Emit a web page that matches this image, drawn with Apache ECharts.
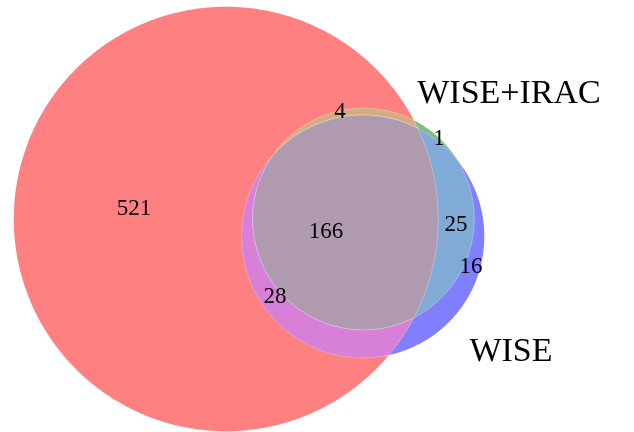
<!DOCTYPE html>
<html>
<head>
<meta charset="utf-8">
<script src="https://cdn.jsdelivr.net/npm/echarts@6/dist/echarts.min.js"></script>
<style>
  html, body { margin: 0; padding: 0; background: #fff; }
  #chart { width: 634px; height: 432px; }
</style>
</head>
<body>
<div id="chart"></div>
<script>
// sets: 0 = unlabeled (red), 1 = WISE+IRAC (green), 2 = WISE (blue)
const setNames = ['', 'WISE+IRAC', 'WISE'];
// each region lists the sets it belongs to
const regionSets = [[0], [1], [2], [0, 1], [0, 2], [1, 2], [0, 1, 2]];
const regionCounts = [521, 1, 16, 4, 28, 25, 166];
const regionColors = ['#ff8080', '#80bf80', '#8080ff', '#d7ab80', '#d780d7', '#80abd7', '#b09ab0'];

// layout in plot units (y downwards), circle area ~ set size
const setCenters = [[226, 219], [363.5, 219], [363, 236.5]];
const unitsPerSqrt = 7.915;
const countLabelPos = [[134, 209], [439, 139], [471, 267], [340, 112], [275, 297], [456, 225], [326, 232]];
const setLabelPos = [null, [509, 94], [511, 352]];

const setSizes = setNames.map((_, s) =>
  regionCounts.reduce((sum, v, i) => sum + (regionSets[i].includes(s) ? v : 0), 0));
const setRadii = setSizes.map(n => unitsPerSqrt * Math.sqrt(n));

function crossings(c1, c2) {
  const dx = c2.x - c1.x, dy = c2.y - c1.y;
  const d = Math.hypot(dx, dy);
  if (d > c1.r + c2.r || d < Math.abs(c1.r - c2.r) || d === 0) return [];
  const a = (c1.r * c1.r - c2.r * c2.r + d * d) / (2 * d);
  const h = Math.sqrt(Math.max(0, c1.r * c1.r - a * a));
  const mx = c1.x + a * dx / d, my = c1.y + a * dy / d;
  return [[mx - h * dy / d, my + h * dx / d], [mx + h * dy / d, my - h * dx / d]];
}

// polygon for the intersection of circles (always convex)
function intersectCircles(circles) {
  const pts = [];
  const inOthers = (p, skip) => circles.every((c, k) =>
    skip.includes(k) || Math.hypot(p[0] - c.x, p[1] - c.y) <= c.r + 1e-6);
  circles.forEach((c, i) => {
    const n = 720;
    for (let k = 0; k < n; k++) {
      const a = 2 * Math.PI * k / n;
      const p = [c.x + c.r * Math.cos(a), c.y + c.r * Math.sin(a)];
      if (inOthers(p, [i])) pts.push(p);
    }
    for (let j = i + 1; j < circles.length; j++) {
      crossings(c, circles[j]).forEach(p => { if (inOthers(p, [i, j])) pts.push(p); });
    }
  });
  const cx = pts.reduce((s, p) => s + p[0], 0) / pts.length;
  const cy = pts.reduce((s, p) => s + p[1], 0) / pts.length;
  pts.sort((p, q) => Math.atan2(p[1] - cy, p[0] - cx) - Math.atan2(q[1] - cy, q[0] - cx));
  return pts;
}

const chart = echarts.init(document.getElementById('chart'));

// regions painted from single sets up to the triple overlap
const paintOrder = regionSets.map((s, i) => i).sort((a, b) => regionSets[a].length - regionSets[b].length);

const option = {
  animation: false,
  grid: { left: 0, right: 0, top: 0, bottom: 0 },
  xAxis: { type: 'value', min: 0, max: 634, show: false },
  yAxis: { type: 'value', min: 0, max: 432, inverse: true, show: false },
  series: [
    {
      type: 'custom',
      coordinateSystem: 'cartesian2d',
      data: paintOrder.map(i => [i]),
      renderItem: (params, api) => {
        const idx = api.value(0);
        const circles = regionSets[idx].map(s => {
          const c = api.coord(setCenters[s]);
          return { x: c[0], y: c[1], r: api.size([setRadii[s], 0])[0] };
        });
        return {
          type: 'polygon',
          shape: { points: intersectCircles(circles) },
          style: {
            fill: regionColors[idx],
            stroke: regionSets[idx].length > 1 ? 'rgba(255,255,255,0.35)' : 'none',
            lineWidth: 0.8
          }
        };
      }
    },
    {
      type: 'custom',
      coordinateSystem: 'cartesian2d',
      data: regionCounts.map((v, i) => [countLabelPos[i][0], countLabelPos[i][1], v]),
      renderItem: (params, api) => {
        const p = api.coord([api.value(0), api.value(1)]);
        return {
          type: 'text',
          x: p[0], y: p[1],
          style: {
            text: String(api.value(2)),
            fill: '#000',
            font: '23px "Liberation Serif"',
            align: 'center',
            verticalAlign: 'middle'
          }
        };
      }
    },
    {
      type: 'custom',
      coordinateSystem: 'cartesian2d',
      data: setNames.map((n, i) => [i]).filter(d => setLabelPos[d[0]]),
      renderItem: (params, api) => {
        const s = api.value(0);
        const p = api.coord(setLabelPos[s]);
        return {
          type: 'text',
          x: p[0], y: p[1],
          style: {
            text: setNames[s],
            fill: '#000',
            font: '34px "Liberation Serif"',
            align: 'center',
            verticalAlign: 'middle'
          }
        };
      }
    }
  ]
};

chart.setOption(option);
</script>
</body>
</html>
